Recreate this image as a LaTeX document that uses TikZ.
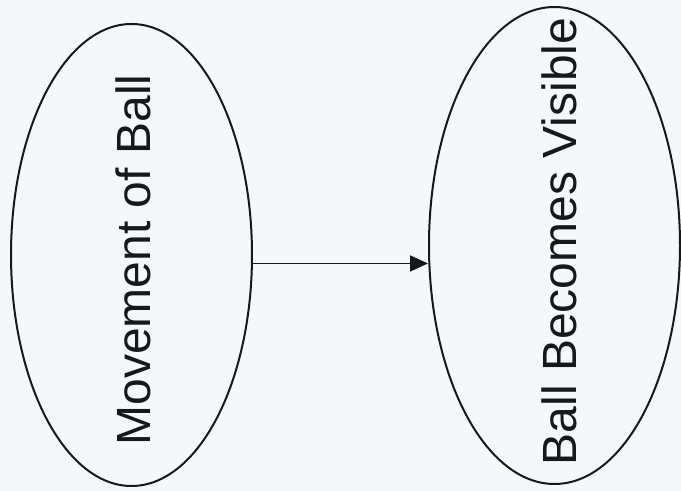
\documentclass[tikz,border=0pt]{standalone}
\usepackage{fontspec}
\usepackage{xcolor}
\setmainfont{Liberation Sans}
\usetikzlibrary{arrows.meta,shapes.geometric}
\definecolor{paper}{RGB}{246,247,249}
\definecolor{ink}{RGB}{22,24,26}

\begin{document}
\begin{tikzpicture}[x=0.5pt, y=-0.5pt,
    oval/.style={draw=ink, line width=1pt, ellipse, inner sep=0pt},
    label text/.style={rotate=90, text=ink, inner sep=0pt,
      font=\fontsize{24}{29}\selectfont}]
    \fill[paper] (0,0) rectangle (681,491);
    \useasboundingbox (0,0) rectangle (681,491);
    % the two ovals
    \node[oval, minimum width=120.5pt, minimum height=231pt] (move) at (131.5,255) {};
    \node[oval, minimum width=125.5pt, minimum height=238.5pt] (visible) at (554.5,245.5) {};
    \node[label text] (movetext) at (133,260) {Movement of Ball};
    \node[label text] (visibletext) at (559,241.5) {Ball Becomes Visible};
    % the link
    \draw[ink, line width=0.9pt, -{Triangle[length=9pt,width=8pt]}]
      (move.-4.3) -- (move.-4.3 -| visible.west);
\end{tikzpicture}
\end{document}
